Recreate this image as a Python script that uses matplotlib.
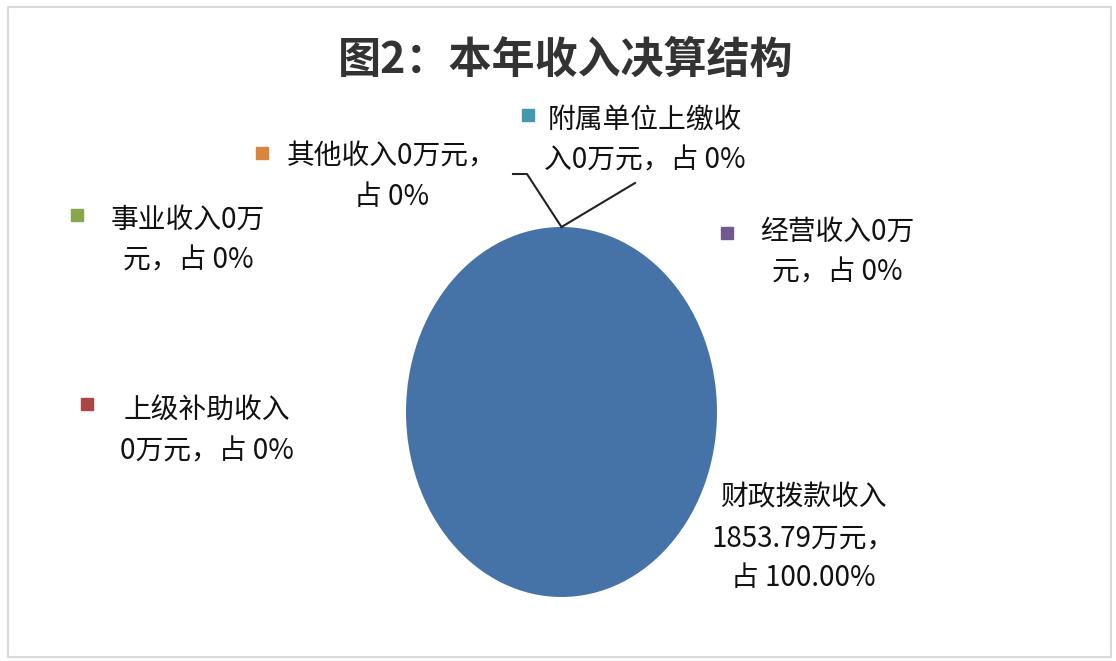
import matplotlib
matplotlib.use('Agg')
import matplotlib.pyplot as plt
from matplotlib.lines import Line2D
from matplotlib.patches import Rectangle

plt.rcParams['font.family'] = ['Noto Sans CJK SC', 'DejaVu Sans']

# 数据
names = ['财政拨款收入', '上级补助收入', '事业收入', '经营收入', '附属单位上缴收入', '其他收入']
values = [1853.79, 0, 0, 0, 0, 0]
colors = ['#4572A7', '#AA4643', '#89A54E', '#71588F', '#4198AF', '#DB843D']
labels = ['财政拨款收入\n1853.79万元，\n占 100.00%',
          '上级补助收入\n0万元，占 0%',
          '事业收入0万\n元，占 0%',
          '经营收入0万\n元，占 0%',
          '附属单位上缴收\n入0万元，占 0%',
          '其他收入0万元，\n占 0%']

W, H = 1116, 661
fig = plt.figure(figsize=(W / 100, H / 100), dpi=100)

def px(x, y):
    # pixel (desde arriba-izquierda) -> fraccion de figura
    return x / W, 1 - y / H

# pastel eliptico
ax = fig.add_axes([406 / W, (H - 597) / H, 311 / W, 370 / H])
ax.pie(values, colors=colors, startangle=90, counterclock=False,
       wedgeprops=dict(linewidth=0))
ax.set_aspect('auto')
ax.set_xlim(-1, 1)
ax.set_ylim(-1, 1)
ax.axis('off')

# titulo
fig.text(*px(566, 60), '图2：本年收入决算结构', ha='center', va='center',
         fontsize=31, fontweight='bold', color='#333333')

# etiquetas: centro del texto y posicion del cuadrito
label_pos = [(803, 538), (207, 431), (188, 240), (837, 252), (645, 140), (392, 177)]
marker_pos = [None, (87, 404), (77, 215), (727, 233), (528, 115), (262, 153)]

for lab, c, pos, mpos in zip(labels, colors, label_pos, marker_pos):
    fig.text(*px(*pos), lab, ha='center', va='center', multialignment='center',
             fontsize=20, color='#111111', linespacing=1.45)
    if mpos is not None:
        fig.add_artist(Line2D([px(*mpos)[0]], [px(*mpos)[1]], marker='s', ms=8,
                              color=c, linestyle='none', transform=fig.transFigure))

# lineas guia desde la parte alta del pastel
top = fig.transFigure.inverted().transform(ax.transData.transform((0, 1)))
p1 = [px(513, 174), px(527, 174), tuple(top)]
p2 = [px(635, 183), tuple(top)]
for pts in (p1, p2):
    xs, ys = zip(*pts)
    fig.add_artist(Line2D(xs, ys, color='#222222', lw=1.5, transform=fig.transFigure))

# borde
fig.add_artist(Rectangle((8 / W, 4 / H), (1111 - 8) / W, (657 - 7) / H,
                         fill=False, ec='#d9d9d9', lw=1.5, transform=fig.transFigure))

fig.savefig('out.png', dpi=100)
